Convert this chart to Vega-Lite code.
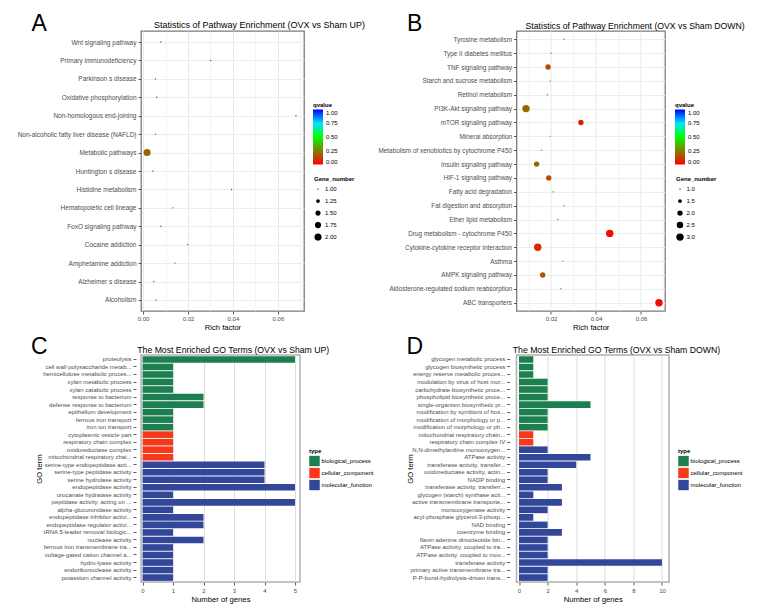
{
  "$schema": "https://vega.github.io/schema/vega-lite/v6.json",
  "padding": {"left": 16, "top": 11, "right": 0, "bottom": 0},
  "background": "white",
  "config": {
    "font": "Liberation Sans",
    "view": {"stroke": null},
    "axis": {"labelFont": "Liberation Sans", "titleFont": "Liberation Sans", "labelColor": "#4d4d4d", "tickColor": "#333333", "titleColor": "#000000", "titleFontWeight": "normal", "domain": false, "tickSize": 3, "tickWidth": 0.8},
    "legend": {"padding": 0, "titleFont": "Liberation Sans", "labelFont": "Liberation Sans", "titleFontWeight": "bold", "titleFontSize": 6, "labelFontSize": 6, "labelColor": "#000000", "titleColor": "#000000"},
    "title": {"font": "Liberation Sans", "fontWeight": "normal", "color": "#000000", "subtitleFont": "Liberation Sans", "subtitleColor": "#000000"},
    "style": {"group-title": {"dx": -110}, "group-subtitle": {"dx": -3.75}}
  },
  "datasets": {
    "a": [
      {"term": "Wnt signaling pathway", "rich": 0.0079, "q": 0.06, "n": 1},
      {"term": "Primary immunodeficiency", "rich": 0.0301, "q": 0.06, "n": 1},
      {"term": "Parkinson s disease", "rich": 0.0055, "q": 0.06, "n": 1},
      {"term": "Oxidative phosphorylation", "rich": 0.0061, "q": 0.06, "n": 1},
      {"term": "Non-homologous end-joining", "rich": 0.068, "q": 0.06, "n": 1},
      {"term": "Non-alcoholic fatty liver disease (NAFLD)", "rich": 0.0055, "q": 0.06, "n": 1},
      {"term": "Metabolic pathways", "rich": 0.0018, "q": 0.2, "n": 2},
      {"term": "Huntington s disease", "rich": 0.0044, "q": 0.06, "n": 1},
      {"term": "Histidine metabolism", "rich": 0.0394, "q": 0.06, "n": 1},
      {"term": "Hematopoietic cell lineage", "rich": 0.0132, "q": 0.06, "n": 1},
      {"term": "FoxO signaling pathway", "rich": 0.0079, "q": 0.06, "n": 1},
      {"term": "Cocaine addiction", "rich": 0.0199, "q": 0.06, "n": 1},
      {"term": "Amphetamine addiction", "rich": 0.0142, "q": 0.06, "n": 1},
      {"term": "Alzheimer s disease", "rich": 0.0048, "q": 0.06, "n": 1},
      {"term": "Alcoholism", "rich": 0.0058, "q": 0.06, "n": 1}
    ],
    "b": [
      {"term": "Tyrosine metabolism", "rich": 0.0258, "q": 0.34, "n": 1},
      {"term": "Type II diabetes mellitus", "rich": 0.0201, "q": 0.34, "n": 1},
      {"term": "TNF signaling pathway", "rich": 0.0187, "q": 0.15, "n": 2},
      {"term": "Starch and sucrose metabolism", "rich": 0.0197, "q": 0.34, "n": 1},
      {"term": "Retinol metabolism", "rich": 0.0184, "q": 0.32, "n": 1},
      {"term": "PI3K-Akt signaling pathway", "rich": 0.0089, "q": 0.21, "n": 3},
      {"term": "mTOR signaling pathway", "rich": 0.0333, "q": 0.06, "n": 2},
      {"term": "Mineral absorption", "rich": 0.0197, "q": 0.34, "n": 1},
      {"term": "Metabolism of xenobiotics by cytochrome P450", "rich": 0.0157, "q": 0.32, "n": 1},
      {"term": "Insulin signaling pathway", "rich": 0.0136, "q": 0.19, "n": 2},
      {"term": "HIF-1 signaling pathway", "rich": 0.019, "q": 0.15, "n": 2},
      {"term": "Fatty acid degradation", "rich": 0.0209, "q": 0.34, "n": 1},
      {"term": "Fat digestion and absorption", "rich": 0.0258, "q": 0.34, "n": 1},
      {"term": "Ether lipid metabolism", "rich": 0.023, "q": 0.34, "n": 1},
      {"term": "Drug metabolism - cytochrome P450", "rich": 0.0461, "q": 0.01, "n": 3},
      {"term": "Cytokine-cytokine receptor interaction", "rich": 0.0141, "q": 0.09, "n": 3},
      {"term": "Asthma", "rich": 0.0252, "q": 0.34, "n": 1},
      {"term": "AMPK signaling pathway", "rich": 0.0163, "q": 0.17, "n": 2},
      {"term": "Aldosterone-regulated sodium reabsorption", "rich": 0.0244, "q": 0.34, "n": 1},
      {"term": "ABC transporters", "rich": 0.068, "q": 0.005, "n": 3}
    ],
    "c": [
      {"term": "proteolysis", "type": "biological_process", "n": 5},
      {"term": "cell wall polysaccharide metab...", "type": "biological_process", "n": 1},
      {"term": "hemicellulose metabolic proces...", "type": "biological_process", "n": 1},
      {"term": "xylan metabolic process", "type": "biological_process", "n": 1},
      {"term": "xylan catabolic process", "type": "biological_process", "n": 1},
      {"term": "response to bacterium", "type": "biological_process", "n": 2},
      {"term": "defense response to bacterium", "type": "biological_process", "n": 2},
      {"term": "epithelium development", "type": "biological_process", "n": 1},
      {"term": "ferrous iron transport", "type": "biological_process", "n": 1},
      {"term": "iron ion transport", "type": "biological_process", "n": 1},
      {"term": "cytoplasmic vesicle part", "type": "cellular_component", "n": 1},
      {"term": "respiratory chain complex", "type": "cellular_component", "n": 1},
      {"term": "oxidoreductase complex", "type": "cellular_component", "n": 1},
      {"term": "mitochondrial respiratory chai...", "type": "cellular_component", "n": 1},
      {"term": "serine-type endopeptidase acti...", "type": "molecular_function", "n": 4},
      {"term": "serine-type peptidase activity", "type": "molecular_function", "n": 4},
      {"term": "serine hydrolase activity", "type": "molecular_function", "n": 4},
      {"term": "endopeptidase activity", "type": "molecular_function", "n": 5},
      {"term": "urocanate hydratase activity", "type": "molecular_function", "n": 1},
      {"term": "peptidase activity, acting on ...", "type": "molecular_function", "n": 5},
      {"term": "alpha-glucuronidase activity", "type": "molecular_function", "n": 1},
      {"term": "endopeptidase inhibitor activi...", "type": "molecular_function", "n": 2},
      {"term": "endopeptidase regulator activi...", "type": "molecular_function", "n": 2},
      {"term": "tRNA 5-leader removal biologic...", "type": "molecular_function", "n": 1},
      {"term": "nuclease activity", "type": "molecular_function", "n": 2},
      {"term": "ferrous iron transmembrane tra...", "type": "molecular_function", "n": 1},
      {"term": "voltage-gated cation channel a...", "type": "molecular_function", "n": 1},
      {"term": "hydro-lyase activity", "type": "molecular_function", "n": 1},
      {"term": "endoribonuclease activity", "type": "molecular_function", "n": 1},
      {"term": "potassium channel activity", "type": "molecular_function", "n": 1}
    ],
    "d": [
      {"term": "glycogen metabolic process", "type": "biological_process", "n": 1},
      {"term": "glycogen biosynthetic process", "type": "biological_process", "n": 1},
      {"term": "energy reserve metabolic proces...", "type": "biological_process", "n": 1},
      {"term": "modulation by virus of host mor...", "type": "biological_process", "n": 2},
      {"term": "carbohydrate biosynthetic proce...", "type": "biological_process", "n": 2},
      {"term": "phospholipid biosynthetic proce...", "type": "biological_process", "n": 2},
      {"term": "single-organism biosynthetic pr...", "type": "biological_process", "n": 5},
      {"term": "modification by symbiont of hos...", "type": "biological_process", "n": 2},
      {"term": "modification of morphology or p...", "type": "biological_process", "n": 2},
      {"term": "modification of morphology or ph...", "type": "biological_process", "n": 2},
      {"term": "mitochondrial respiratory chain...", "type": "cellular_component", "n": 1},
      {"term": "respiratory chain complex IV", "type": "cellular_component", "n": 1},
      {"term": "N,N-dimethylaniline monooxygen...", "type": "molecular_function", "n": 2},
      {"term": "ATPase activity", "type": "molecular_function", "n": 5},
      {"term": "transferase activity, transfer...", "type": "molecular_function", "n": 4},
      {"term": "oxidoreductase activity, actin...", "type": "molecular_function", "n": 2},
      {"term": "NADP binding", "type": "molecular_function", "n": 2},
      {"term": "transferase activity, transferr...", "type": "molecular_function", "n": 3},
      {"term": "glycogen (starch) synthase acti...", "type": "molecular_function", "n": 1},
      {"term": "active transmembrane transporte...", "type": "molecular_function", "n": 3},
      {"term": "monooxygenase activity", "type": "molecular_function", "n": 2},
      {"term": "acyl-phosphate glycerol-3-phosp...", "type": "molecular_function", "n": 1},
      {"term": "NAD binding", "type": "molecular_function", "n": 2},
      {"term": "coenzyme binding", "type": "molecular_function", "n": 3},
      {"term": "flavin adenine dinucleotide bin...", "type": "molecular_function", "n": 2},
      {"term": "ATPase activity, coupled to tra...", "type": "molecular_function", "n": 2},
      {"term": "ATPase activity, coupled to mov...", "type": "molecular_function", "n": 2},
      {"term": "transferase activity", "type": "molecular_function", "n": 10},
      {"term": "primary active transmembrane tra...", "type": "molecular_function", "n": 2},
      {"term": "P-P-bond-hydrolysis-driven trans...", "type": "molecular_function", "n": 2}
    ]
  },
  "columns": 2,
  "bounds": "flush",
  "spacing": {"row": 44, "column": 212.5},
  "resolve": {"scale": {"color": "independent", "size": "independent"}, "legend": {"color": "independent", "size": "independent"}},
  "concat": [
    {
      "width": 163, "height": 280,
      "data": {"name": "a"},
      "title": {"text": "Statistics of Pathway Enrichment (OVX vs Sham UP)", "anchor": "start", "frame": "group", "dx": 13, "fontSize": 9, "offset": -18.4},
      "view": {"stroke": "#7a7a7a", "strokeWidth": 1.3},
      "mark": {"type": "circle", "opacity": 1},
      "encoding": {
        "y": {"field": "term", "type": "nominal", "sort": null, "scale": {"type": "point", "padding": 0.6},
              "axis": {"title": "A", "titleAngle": 0, "titleX": -110, "titleY": -1, "titleAlign": "left", "titleBaseline": "alphabetic", "titleFontSize": 23, "labelFontSize": 6.5, "labelPadding": 2, "grid": true, "gridColor": "#ebebeb", "gridWidth": 0.9}},
        "x": {"field": "rich", "type": "quantitative", "scale": {"domain": [-0.0009, 0.0716], "nice": false, "zero": false},
              "axis": {"title": "Rich factor", "values": [0, 0.01, 0.02, 0.03, 0.04, 0.05, 0.06, 0.07],
                       "labelExpr": "round(datum.value*100) % 2 == 0 ? format(datum.value, '.2f') : ''",
                       "tickOpacity": {"condition": {"test": "round(datum.value*100) % 2 == 0", "value": 1}, "value": 0},
                       "grid": true, "gridColor": "#e6e6e6",
                       "gridWidth": {"condition": {"test": "round(datum.value*100) % 2 == 0", "value": 0.9}, "value": 0.45},
                       "labelFontSize": 6, "titleFontSize": 7.6, "labelPadding": 1, "titlePadding": 2}},
        "color": {"field": "q", "type": "quantitative",
                  "scale": {"domain": [0, 0.5, 0.75, 1], "range": ["#ff0000", "#00ff00", "#00e5ff", "#0000ff"], "interpolate": "rgb"},
                  "legend": {"title": "qvalue", "orient": "none", "legendX": 172, "legendY": 71, "direction": "vertical", "gradientLength": 55, "gradientThickness": 10, "values": [0, 0.25, 0.5, 0.75, 1], "format": ".2f", "titlePadding": 1.5, "labelOffset": 3, "gradientStrokeWidth": 0}},
        "size": {"field": "n", "type": "quantitative", "scale": {"domain": [1, 2], "range": [2, 50], "zero": false},
                 "legend": {"title": "Gene_number", "orient": "none", "legendX": 173, "legendY": 145, "values": [1, 1.25, 1.5, 1.75, 2], "format": ".2f", "symbolFillColor": "#000000", "symbolStrokeWidth": 0, "symbolOpacity": 1, "clipHeight": 11.2, "rowPadding": 0, "titlePadding": 1.5, "labelOffset": 3}}
      }
    },
    {
      "width": 148.5, "height": 280,
      "data": {"name": "b"},
      "title": {"text": "Statistics of Pathway Enrichment (OVX vs Sham DOWN)", "anchor": "start", "frame": "group", "dx": 9, "fontSize": 8.7, "offset": -18.4},
      "view": {"stroke": "#7a7a7a", "strokeWidth": 1.3},
      "mark": {"type": "circle", "opacity": 1},
      "encoding": {
        "y": {"field": "term", "type": "nominal", "sort": null, "scale": {"type": "point", "padding": 0.6},
              "axis": {"title": "B", "titleAngle": 0, "titleX": -110, "titleY": -1, "titleAlign": "left", "titleBaseline": "alphabetic", "titleFontSize": 23, "labelFontSize": 6.4, "labelPadding": 2, "grid": true, "gridColor": "#ebebeb", "gridWidth": 0.9}},
        "x": {"field": "rich", "type": "quantitative", "scale": {"domain": [0.004667, 0.07067], "nice": false, "zero": false},
              "axis": {"title": "Rich factor", "values": [0.01, 0.02, 0.03, 0.04, 0.05, 0.06, 0.07],
                       "labelExpr": "round(datum.value*100) % 2 == 0 ? format(datum.value, '.2f') : ''",
                       "tickOpacity": {"condition": {"test": "round(datum.value*100) % 2 == 0", "value": 1}, "value": 0},
                       "grid": true, "gridColor": "#e6e6e6",
                       "gridWidth": {"condition": {"test": "round(datum.value*100) % 2 == 0", "value": 0.9}, "value": 0.45},
                       "labelFontSize": 6, "titleFontSize": 7.6, "labelPadding": 1, "titlePadding": 2}},
        "color": {"field": "q", "type": "quantitative",
                  "scale": {"domain": [0, 0.5, 0.75, 1], "range": ["#ff0000", "#00ff00", "#00e5ff", "#0000ff"], "interpolate": "rgb"},
                  "legend": {"title": "qvalue", "orient": "none", "legendX": 158.5, "legendY": 71, "direction": "vertical", "gradientLength": 55, "gradientThickness": 10, "values": [0, 0.25, 0.5, 0.75, 1], "format": ".2f", "titlePadding": 1.5, "labelOffset": 3, "gradientStrokeWidth": 0}},
        "size": {"field": "n", "type": "quantitative", "scale": {"domain": [1, 3], "range": [2, 55], "zero": false},
                 "legend": {"title": "Gene_number", "orient": "none", "legendX": 159.5, "legendY": 145, "values": [1, 1.5, 2, 2.5, 3], "format": ".1f", "symbolFillColor": "#000000", "symbolStrokeWidth": 0, "symbolOpacity": 1, "clipHeight": 11.2, "rowPadding": 0, "titlePadding": 1.5, "labelOffset": 2.5}}
      }
    },
    {
      "width": 159, "height": 227,
      "data": {"name": "c"},
      "title": {"text": "C", "subtitle": "The Most Enriched GO Terms (OVX vs Sham UP)", "anchor": "start", "frame": "group", "fontSize": 23, "subtitleFontSize": 8.7, "subtitlePadding": -12.7, "offset": -4},
      "view": {"stroke": "#b0b0b0", "strokeWidth": 1.5},
      "mark": {"type": "bar"},
      "encoding": {
        "y": {"field": "term", "type": "nominal", "sort": null, "scale": {"paddingInner": 0.12, "paddingOuter": 0.15},
              "axis": {"title": "GO term", "titleX": -95, "titleBaseline": "alphabetic", "titleFontSize": 7.7, "labelFontSize": 6, "labelPadding": 2, "offset": 5}},
        "x": {"field": "n", "type": "quantitative", "scale": {"domain": [-0.05, 5.164], "nice": false, "zero": false},
              "axis": {"title": "Number of genes", "values": [0, 1, 2, 3, 4, 5], "labelFontSize": 6, "titleFontSize": 7.7, "labelPadding": 2, "titlePadding": 2}},
        "x2": {"datum": 0},
        "color": {"field": "type", "type": "nominal",
                  "scale": {"domain": ["biological_process", "cellular_component", "molecular_function"], "range": ["#1c7f4f", "#f7391a", "#33479a"]},
                  "legend": {"title": "type", "orient": "none", "legendX": 168, "legendY": 93, "symbolType": "square", "symbolSize": 110, "symbolStrokeWidth": 0, "symbolOpacity": 1, "clipHeight": 11.2, "rowPadding": 0, "titlePadding": 1.5, "labelOffset": 1.5}}
      }
    },
    {
      "width": 152.5, "height": 227,
      "data": {"name": "d"},
      "title": {"text": "D", "subtitle": "The Most Enriched GO Terms (OVX vs Sham DOWN)", "anchor": "start", "frame": "group", "fontSize": 23, "subtitleFontSize": 8.7, "subtitlePadding": -12.7, "offset": -4},
      "view": {"stroke": "#b0b0b0", "strokeWidth": 1.5},
      "mark": {"type": "bar"},
      "encoding": {
        "y": {"field": "term", "type": "nominal", "sort": null, "scale": {"paddingInner": 0.12, "paddingOuter": 0.15},
              "axis": {"title": "GO term", "titleX": -97, "titleBaseline": "alphabetic", "titleFontSize": 7.7, "labelFontSize": 6, "labelPadding": 2, "offset": 6.8}},
        "x": {"field": "n", "type": "quantitative", "scale": {"domain": [-0.175, 10.49], "nice": false, "zero": false},
              "axis": {"title": "Number of genes", "values": [0, 2, 4, 6, 8, 10], "labelFontSize": 6, "titleFontSize": 7.7, "labelPadding": 2, "titlePadding": 2}},
        "x2": {"datum": 0},
        "color": {"field": "type", "type": "nominal",
                  "scale": {"domain": ["biological_process", "cellular_component", "molecular_function"], "range": ["#1c7f4f", "#f7391a", "#33479a"]},
                  "legend": {"title": "type", "orient": "none", "legendX": 161.5, "legendY": 93, "symbolType": "square", "symbolSize": 110, "symbolStrokeWidth": 0, "symbolOpacity": 1, "clipHeight": 11.2, "rowPadding": 0, "titlePadding": 1.5, "labelOffset": 1.5}}
      }
    }
  ]
}
